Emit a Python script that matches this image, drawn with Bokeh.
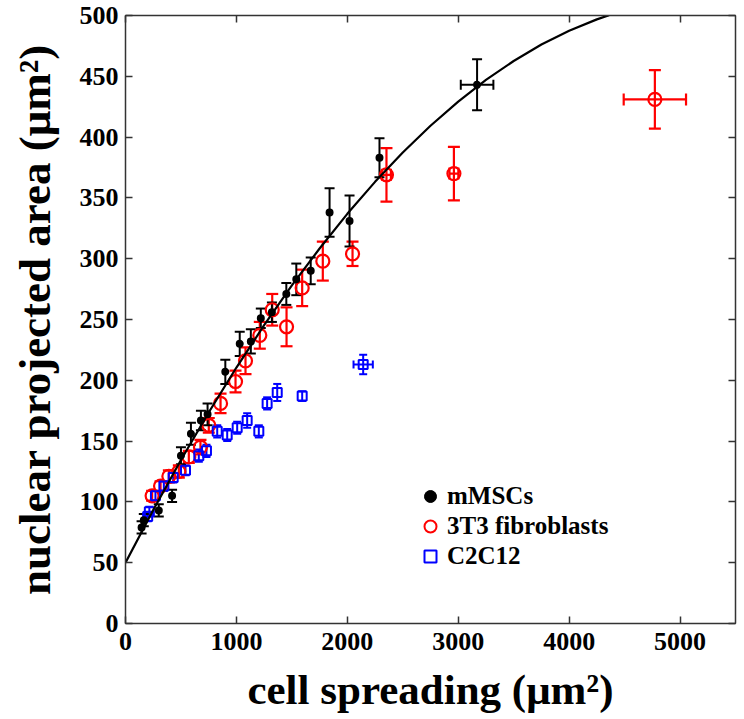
from bokeh.plotting import figure
from bokeh.models import (ColumnDataSource, Whisker, TeeHead, Range1d, FixedTicker,
                          LinearAxis, Legend, LegendItem, CustomJSTickFormatter)
from bokeh.embed import file_html
from bokeh.resources import INLINE

# ---------------- data ----------------
black_x = [145, 165, 300, 420, 500, 590, 680, 740, 900, 1030, 1130, 1220, 1320, 1450, 1540, 1670, 1840, 2020, 2290, 3170]
black_y = [79, 85, 93, 105, 138, 156, 167, 172, 207, 230, 232, 251, 256, 271, 283, 290, 338, 331, 383, 443]
black_yerr = [5, 5, 5, 5, 7, 9, 8, 9, 10, 10, 10, 8, 8, 9, 13, 11, 20, 21, 16, 21]
black_xerr = [0, 0, 0, 0, 0, 0, 0, 0, 0, 0, 0, 0, 0, 0, 0, 0, 0, 0, 0, 147]

red_x = [240, 316, 391, 481, 571, 676, 751, 857, 992, 1082, 1211, 1323, 1452, 1593, 1779, 2047, 2353, 2961, 4773]
red_y = [105, 113, 121, 125, 137, 145, 163, 181, 199, 216, 237, 258, 244, 276, 298, 304, 369, 370, 431]
red_yerr = [4, 4, 5, 5, 5, 6, 6, 8, 9, 11, 11, 13, 16, 15, 16, 10, 22, 22, 24]
red_xerr = [0, 0, 0, 0, 0, 0, 0, 0, 0, 0, 0, 0, 0, 0, 0, 0, 40, 40, 281]

blue_x = [200, 215, 270, 346, 430, 541, 661, 730, 827, 917, 1007, 1097, 1202, 1277, 1368, 1593, 2143]
blue_y = [88, 92, 105, 113, 120, 126, 138, 142, 158, 155, 161, 167, 158, 181, 190, 187, 213]
blue_yerr = [4, 4, 4, 4, 4, 4, 5, 5, 5, 5, 5, 6, 5, 5, 7, 4, 8]
blue_xerr = [0, 0, 0, 0, 0, 0, 0, 0, 0, 0, 0, 0, 0, 0, 0, 0, 87]

fit_x = [0, 250, 500, 750, 1000, 1250, 1500, 1750, 2000, 2250, 2500, 2750, 3000, 3250, 3500, 3750, 4000, 4250, 4360]
fit_y = [50, 93.3, 134.5, 173.5, 210.5, 245.3, 278.0, 308.4, 336.9, 363.2, 387.3, 409.3, 429.2, 447.0, 462.6, 476.1, 487.5, 496.8, 500.2]

x_ticks = [0, 1000, 2000, 3000, 4000, 5000]
y_ticks = [0, 50, 100, 150, 200, 250, 300, 350, 400, 450, 500]
labels = ["mMSCs", "3T3 fibroblasts", "C2C12"]

FONT = "Liberation Serif"

p = figure(frame_width=610, frame_height=608, output_backend="svg", toolbar_location=None,
           x_range=Range1d(0, 5500), y_range=Range1d(0, 500),
           min_border_left=125, min_border_right=9, min_border_top=15, min_border_bottom=96)
p.grid.visible = False
p.outline_line_color = "#333333"
p.background_fill_color = "white"
p.border_fill_color = "white"


def style_axis(ax, show_labels):
    ax.axis_line_color = "#333333"
    ax.axis_line_width = 1.5
    ax.major_tick_line_color = "#333333"
    ax.major_tick_line_width = 1.5
    ax.major_tick_in = 7
    ax.major_tick_out = 0
    ax.minor_tick_line_color = None
    ax.major_label_text_font = FONT
    ax.major_label_text_font_style = "bold"
    ax.major_label_text_color = "black"
    if not show_labels:
        ax.formatter = CustomJSTickFormatter(code="return ''")
        ax.major_label_text_font_size = "1px"
        ax.major_label_standoff = 0


p.xaxis.ticker = FixedTicker(ticks=x_ticks)
p.yaxis.ticker = FixedTicker(ticks=y_ticks)
style_axis(p.xaxis[0], True)
style_axis(p.yaxis[0], True)
p.xaxis.major_label_text_font_size = "26px"
p.yaxis.major_label_text_font_size = "26px"
p.xaxis.major_label_standoff = 9
p.yaxis.major_label_standoff = 7
p.xaxis.axis_label = "cell spreading (μm²)"
p.yaxis.axis_label = "nuclear projected area (μm²)"
for ax in (p.xaxis[0], p.yaxis[0]):
    ax.axis_label_text_font = FONT
    ax.axis_label_text_font_style = "bold"
    ax.axis_label_text_color = "black"
p.xaxis.axis_label_text_font_size = "43px"
p.yaxis.axis_label_text_font_size = "45px"
p.xaxis.axis_label_standoff = 13
p.yaxis.axis_label_standoff = 17

ax_r = LinearAxis(ticker=FixedTicker(ticks=y_ticks))
style_axis(ax_r, False)
p.add_layout(ax_r, "right")
ax_t = LinearAxis(ticker=FixedTicker(ticks=x_ticks))
style_axis(ax_t, False)
p.add_layout(ax_t, "above")


def add_series(xs, ys, yerr, xerr, color, marker, size, fill, lw, cap):
    src = ColumnDataSource(dict(x=xs, y=ys,
                                lo=[a - b for a, b in zip(ys, yerr)],
                                hi=[a + b for a, b in zip(ys, yerr)]))
    p.add_layout(Whisker(source=src, base="x", lower="lo", upper="hi", dimension="height",
                         line_color=color, line_width=lw,
                         upper_head=TeeHead(size=cap, line_color=color, line_width=lw),
                         lower_head=TeeHead(size=cap, line_color=color, line_width=lw)))
    idx = [i for i, e in enumerate(xerr) if e > 0]
    if idx:
        xsrc = ColumnDataSource(dict(y=[ys[i] for i in idx],
                                     lo=[xs[i] - xerr[i] for i in idx],
                                     hi=[xs[i] + xerr[i] for i in idx]))
        p.add_layout(Whisker(source=xsrc, base="y", lower="lo", upper="hi", dimension="width",
                             line_color=color, line_width=lw,
                             upper_head=TeeHead(size=cap, line_color=color, line_width=lw),
                             lower_head=TeeHead(size=cap, line_color=color, line_width=lw)))
    p.scatter("x", "y", source=src, marker=marker, size=size, line_color=color,
              fill_color=color if fill else None, line_width=lw)


add_series(red_x, red_y, red_yerr, red_xerr, "#ff0000", "circle", 13, False, 2.2, 12)
add_series(blue_x, blue_y, blue_yerr, blue_xerr, "#0000ff", "square", 9, False, 2.0, 8)
add_series(black_x, black_y, black_yerr, black_xerr, "black", "circle", 6, True, 2.0, 10)

p.line(fit_x, fit_y, line_color="black", line_width=2.2)

# legend with dummy renderers (a single NaN point, nothing drawn in the plot)
nan = float("nan")
rb = p.scatter([nan], [nan], marker="circle", size=14, fill_color="black", line_color="black")
rr = p.scatter([nan], [nan], marker="circle", size=14, fill_color=None, line_color="#ff0000", line_width=2)
rc = p.scatter([nan], [nan], marker="square", size=13, fill_color=None, line_color="#0000ff", line_width=2)
legend = Legend(items=[LegendItem(label=labels[0], renderers=[rb]),
                       LegendItem(label=labels[1], renderers=[rr]),
                       LegendItem(label=labels[2], renderers=[rc])],
                location=(290, 52), padding=0, margin=0, spacing=0,
                label_text_font=FONT, label_text_font_style="bold", label_text_font_size="25px",
                label_text_color="black",
                label_height=29, glyph_height=30, glyph_width=30, label_standoff=2,
                background_fill_alpha=0, border_line_color=None)
p.add_layout(legend)

open("out.html", "w").write(file_html(p, INLINE))
